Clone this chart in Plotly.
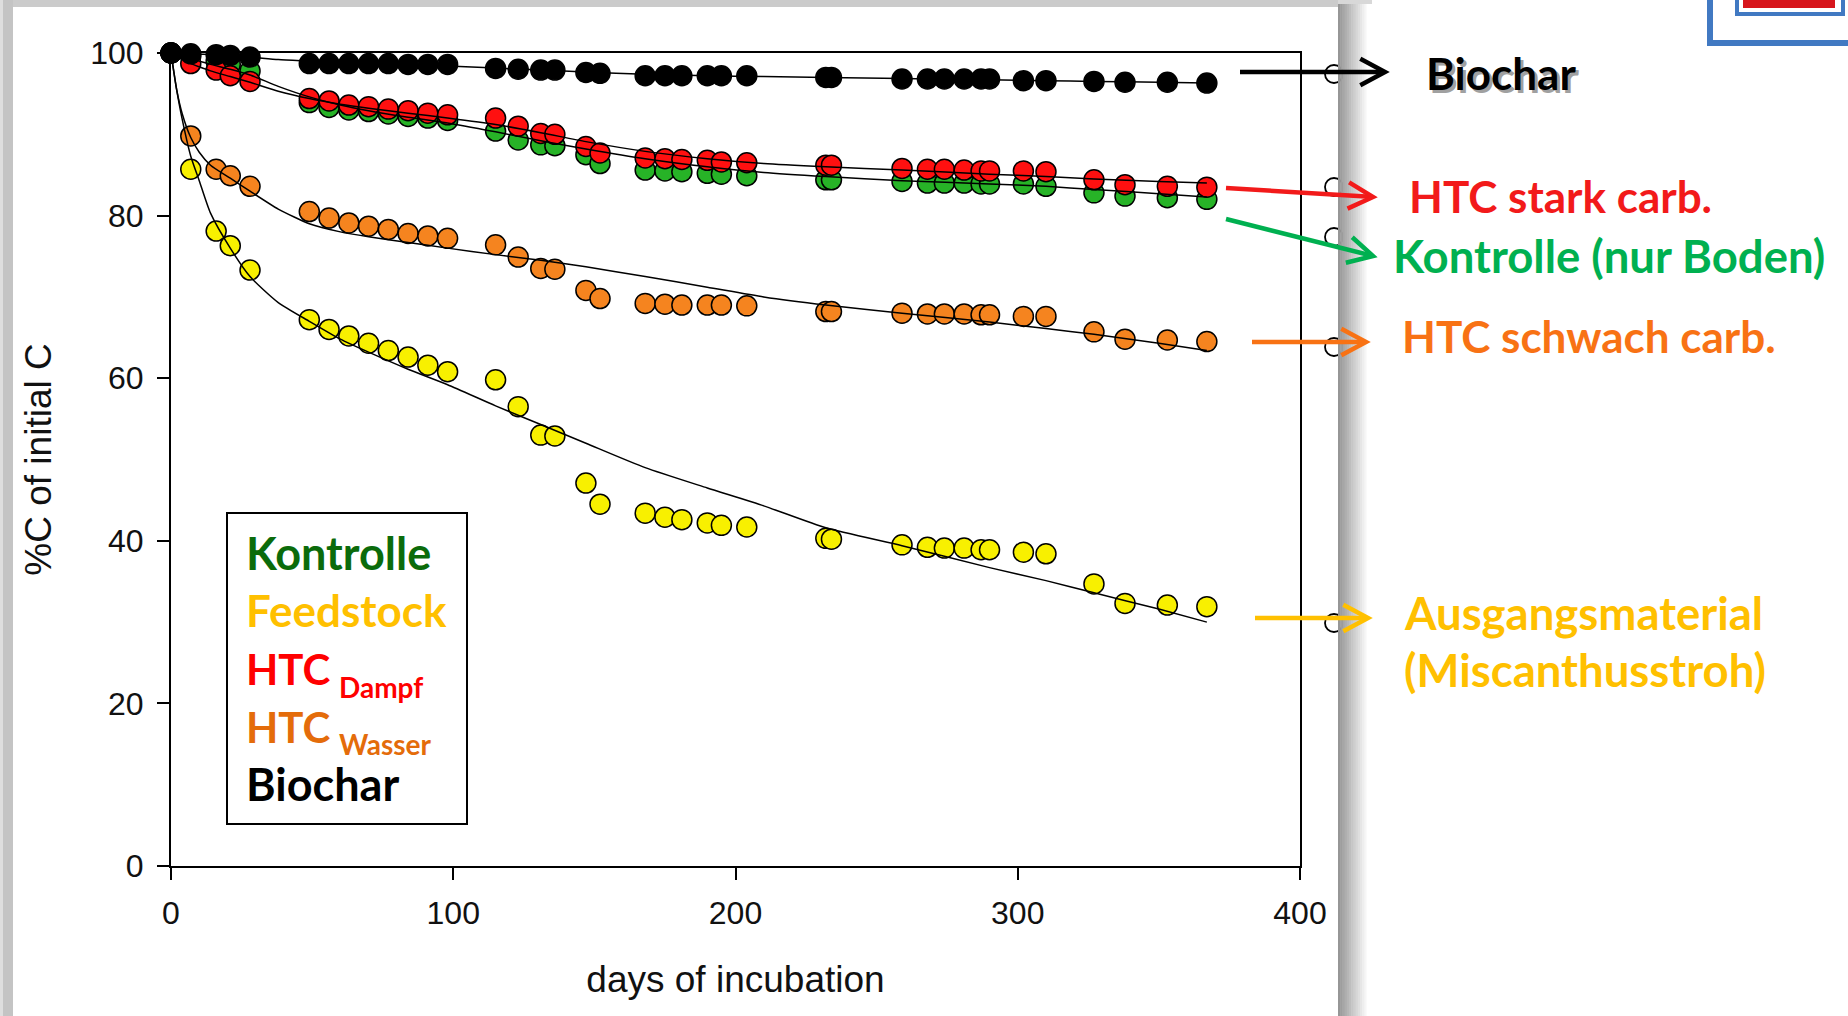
import math
import plotly.graph_objects as go

W, H = 1848, 1016

# ---- measured carbon remaining (% of initial C) per incubation day ----
days = [0, 7, 16, 21, 28, 49, 56, 63, 70, 77, 84, 91, 98, 115, 123, 131, 136,
        147, 152, 168, 175, 181, 190, 195, 204, 232, 234, 259, 268, 274, 281,
        287, 290, 302, 310, 327, 338, 353, 367]

feedstock = [100, 85.7, 78.1, 76.3, 73.3, 67.2, 66.0, 65.2, 64.3, 63.4, 62.6,
             61.6, 60.8, 59.8, 56.5, 53.0, 52.9, 47.1, 44.5, 43.4, 42.9, 42.6,
             42.2, 41.9, 41.7, 40.3, 40.2, 39.5, 39.2, 39.1, 39.1, 38.9, 38.9,
             38.6, 38.4, 34.7, 32.3, 32.1, 31.9]

htc_wasser = [100, 89.8, 85.7, 84.9, 83.6, 80.5, 79.7, 79.1, 78.7, 78.3, 77.8,
              77.5, 77.2, 76.4, 74.9, 73.5, 73.4, 70.8, 69.8, 69.2, 69.1, 69.0,
              69.0, 69.0, 68.9, 68.2, 68.2, 68.0, 67.9, 67.9, 67.9, 67.8, 67.8,
              67.6, 67.6, 65.7, 64.8, 64.7, 64.5]

kontrolle = [100, 99.6, 99.0, 98.6, 97.8, 93.9, 93.3, 93.0, 92.8, 92.5, 92.2,
             92.0, 91.7, 90.4, 89.3, 88.7, 88.6, 87.5, 86.4, 85.6, 85.5, 85.4,
             85.2, 85.1, 84.9, 84.4, 84.4, 84.2, 84.0, 84.0, 84.0, 83.9, 83.9,
             83.9, 83.6, 82.8, 82.4, 82.2, 82.0]

htc_dampf = [100, 98.7, 97.9, 97.2, 96.5, 94.4, 94.1, 93.6, 93.4, 93.1, 92.9,
             92.6, 92.4, 92.0, 91.0, 90.1, 90.0, 88.5, 87.7, 87.1, 87.0, 86.9,
             86.8, 86.6, 86.5, 86.2, 86.2, 85.8, 85.7, 85.7, 85.6, 85.5, 85.5,
             85.5, 85.4, 84.4, 83.8, 83.6, 83.5]

biochar = [100, 99.9, 99.8, 99.7, 99.5, 98.7, 98.7, 98.7, 98.7, 98.7, 98.6,
           98.6, 98.6, 98.1, 98.0, 97.9, 97.9, 97.6, 97.5, 97.2, 97.2, 97.2,
           97.2, 97.2, 97.2, 97.0, 97.0, 96.8, 96.8, 96.8, 96.8, 96.8, 96.8,
           96.6, 96.6, 96.5, 96.4, 96.4, 96.3]

# ---- fitted decay curves ----
fit_days = [0, 2, 4, 7, 10, 14, 21, 28, 38, 49, 60, 70, 84, 98, 115, 131, 147,
            168, 190, 210, 232, 259, 290, 310, 327, 350, 367]

fit_feedstock = [100, 95.5, 91.8, 87.3, 84.3, 80.3, 76.0, 72.5, 69.3, 67.0,
                 64.8, 63.2, 61.1, 59.2, 56.6, 54.3, 52.0, 49.0, 46.5, 44.3,
                 41.6, 39.4, 36.7, 35.1, 33.6, 31.6, 30.0]
fit_htc_wasser = [100, 95.5, 92.5, 89.6, 87.8, 86.2, 84.6, 83.0, 80.8, 79.0,
                  78.0, 77.4, 76.7, 76.0, 75.2, 74.5, 73.7, 72.5, 71.2, 70.0,
                  69.0, 68.0, 66.9, 66.1, 65.4, 64.3, 63.4]
fit_kontrolle = [100, 99.8, 99.6, 99.3, 99.0, 98.6, 98.0, 97.3, 95.9, 94.6,
                 93.6, 92.9, 92.1, 91.4, 90.3, 89.2, 88.2, 87.0, 86.0, 85.3,
                 84.8, 84.3, 83.9, 83.6, 83.2, 82.7, 82.3]
fit_htc_dampf = [100, 99.6, 99.2, 98.7, 98.3, 97.8, 97.1, 96.4, 95.3, 94.4,
                 93.7, 93.2, 92.6, 92.0, 91.2, 90.2, 89.1, 87.9, 87.0, 86.4,
                 86.0, 85.6, 85.1, 84.8, 84.5, 84.2, 84.0]
fit_biochar = [100, 100, 99.95, 99.9, 99.85, 99.8, 99.65, 99.5, 99.2, 99.0,
               98.8, 98.7, 98.55, 98.4, 98.15, 97.9, 97.65, 97.4, 97.2, 97.1,
               97.0, 96.85, 96.7, 96.6, 96.5, 96.4, 96.3]

x_ticks = [0, 100, 200, 300, 400]
y_ticks = [0, 20, 40, 60, 80, 100]

series = [
    ("Feedstock", feedstock, fit_feedstock, "#F8F000"),
    ("HTC Wasser", htc_wasser, fit_htc_wasser, "#F5841F"),
    ("Kontrolle", kontrolle, fit_kontrolle, "#27B327"),
    ("HTC Dampf", htc_dampf, fit_htc_dampf, "#FF1010"),
    ("Biochar", biochar, fit_biochar, "#000000"),
]

fig = go.Figure()
for name, vals, _, col in series:
    fig.add_trace(go.Scatter(
        x=days, y=vals, mode="markers", name=name, cliponaxis=False,
        marker=dict(size=20, color=col, line=dict(color="black", width=1.5)),
    ))
for name, _, fit, _ in series:
    fig.add_trace(go.Scatter(
        x=fit_days, y=fit, mode="lines", name=name + " fit", cliponaxis=False,
        line=dict(color="black", width=1.5, shape="spline", smoothing=0.6),
    ))


def px(x):
    return x / W


def py(y):
    return 1 - y / H


shapes = []


def rect(x0, y0, x1, y1, fill=None, line_color=None, lw=0):
    shapes.append(dict(
        type="rect", xref="paper", yref="paper",
        x0=px(x0), x1=px(x1), y0=py(y1), y1=py(y0),
        fillcolor=fill if fill else "rgba(0,0,0,0)",
        line=dict(color=line_color if line_color else "rgba(0,0,0,0)", width=lw),
        layer="above",
    ))


# slide frame: gray border left and top of the chart panel
rect(0, 0, 1338, 7, fill="#cbcbcb")
rect(0, 0, 13, H, fill="#c4c4c4")
rect(0, 0, 3, H, fill="#dedede")

# open circles peeking at the panel's right edge
for cy in [74, 187, 237, 347, 623]:
    shapes.append(dict(
        type="circle", xref="paper", yref="paper",
        x0=px(1325), x1=px(1343), y0=py(cy + 9), y1=py(cy - 9),
        line=dict(color="black", width=1.8), layer="above",
    ))

# soft shadow right of the panel
n_bands = 14
for i in range(n_bands):
    t = i / (n_bands - 1)
    g = int(150 + (255 - 150) * t)
    rect(1338 + i * 2.2, 0, 1338 + (i + 1) * 2.2 + 0.5, H,
         fill=f"rgb({g},{g},{g})")
rect(1338, 0, 1372, 4, fill="#d8d8d8")

# legend box
rect(227, 513, 467, 824, line_color="black", lw=2)


def arrow(x0, y0, x1, y1, color, width=4.5, head=28, ang=28):
    dx, dy = x1 - x0, y1 - y0
    ln = math.hypot(dx, dy)
    ux, uy = dx / ln, dy / ln
    shapes.append(dict(
        type="line", xref="paper", yref="paper",
        x0=px(x0), y0=py(y0), x1=px(x1 - ux * 3), y1=py(y1 - uy * 3),
        line=dict(color=color, width=width), layer="above",
    ))
    pts = []
    for s in (1, -1):
        a = math.radians(ang) * s
        rx = ux * math.cos(a) - uy * math.sin(a)
        ry = ux * math.sin(a) + uy * math.cos(a)
        pts.append((x1 - rx * head, y1 - ry * head))
    path = (f"M {px(pts[0][0])},{py(pts[0][1])} L {px(x1)},{py(y1)} "
            f"L {px(pts[1][0])},{py(pts[1][1])}")
    shapes.append(dict(
        type="path", xref="paper", yref="paper", path=path,
        line=dict(color=color, width=width), layer="above",
    ))


arrow(1240, 72, 1385, 72, "#000000")
arrow(1226, 188, 1373, 197, "#F21A1A")
arrow(1226, 219, 1373, 256, "#00B050")
arrow(1252, 342, 1366, 342, "#F87214")
arrow(1255, 618, 1368, 618, "#FFC000")

# corner logo
rect(1710, -20, 1880, 43, line_color="#4179C2", lw=6)
rect(1737, -20, 1843, 14, line_color="#4179C2", lw=4)
rect(1743, -5, 1835, 8, fill="#D7161C")

annotations = []
LBL = "Lato"


def label(text, x, y, color, size=44, shadow=False):
    if shadow:
        annotations.append(dict(
            text=f"<b>{text}</b>", xref="paper", yref="paper",
            x=px(x + 3), y=py(y + 3), xanchor="left", yanchor="middle",
            showarrow=False, font=dict(family=LBL, size=size, color="#a0a0a0"),
        ))
    annotations.append(dict(
        text=f"<b>{text}</b>", xref="paper", yref="paper",
        x=px(x), y=py(y), xanchor="left", yanchor="middle",
        showarrow=False, font=dict(family=LBL, size=size, color=color),
    ))


# labels beside the arrows
label("Biochar", 1424, 73, "#000000", shadow=True)
label("HTC stark carb.", 1407, 196, "#F21A1A")
label("Kontrolle (nur Boden)", 1391, 255, "#00B050", size=45.5)
label("HTC schwach carb.", 1400, 336, "#F87214")
label("Ausgangsmaterial", 1402, 612, "#FFC000", size=45.5)
label("(Miscanthusstroh)", 1402, 669, "#FFC000", size=45.5)

# legend box entries
label("Kontrolle", 244, 553, "#0B6B0B", size=45)
label("Feedstock", 244, 610, "#FFC000")
label("HTC", 244, 669, "#FF0000", size=42)
label("Dampf", 337, 687, "#FF0000", size=28)
label("HTC", 244, 727, "#E46C0A", size=42)
label("Wasser", 337, 744, "#E46C0A", size=28)
label("Biochar", 244, 784, "#000000", size=45)

axis_font = dict(family="Liberation Sans, Arial", size=32, color="#111111")
title_font = dict(family="Liberation Sans, Arial", size=37, color="#111111")

fig.update_layout(
    width=W, height=H,
    margin=dict(l=0, r=0, t=0, b=0, autoexpand=False),
    paper_bgcolor="white", plot_bgcolor="white",
    showlegend=False,
    shapes=shapes,
    annotations=annotations,
    xaxis=dict(
        domain=[171 / W, 1300 / W], range=[0, 400], automargin=False,
        tickvals=x_ticks, ticks="outside", ticklen=12, tickwidth=2,
        tickcolor="black", showline=True, linewidth=2, linecolor="black",
        mirror=True, showgrid=False, zeroline=False, tickfont=axis_font,
        ticklabelstandoff=6,
        title=dict(text="days of incubation", font=title_font, standoff=36),
    ),
    yaxis=dict(
        domain=[1 - 866 / H, 1 - 53 / H], range=[0, 100], automargin=False,
        tickvals=y_ticks, ticks="outside", ticklen=12, tickwidth=2,
        tickcolor="black", showline=True, linewidth=2, linecolor="black",
        mirror=True, showgrid=False, zeroline=False, tickfont=axis_font,
        ticklabelstandoff=7,
        title=dict(text="%C of initial C", font=title_font, standoff=27),
    ),
)

fig.write_html("out.html")
